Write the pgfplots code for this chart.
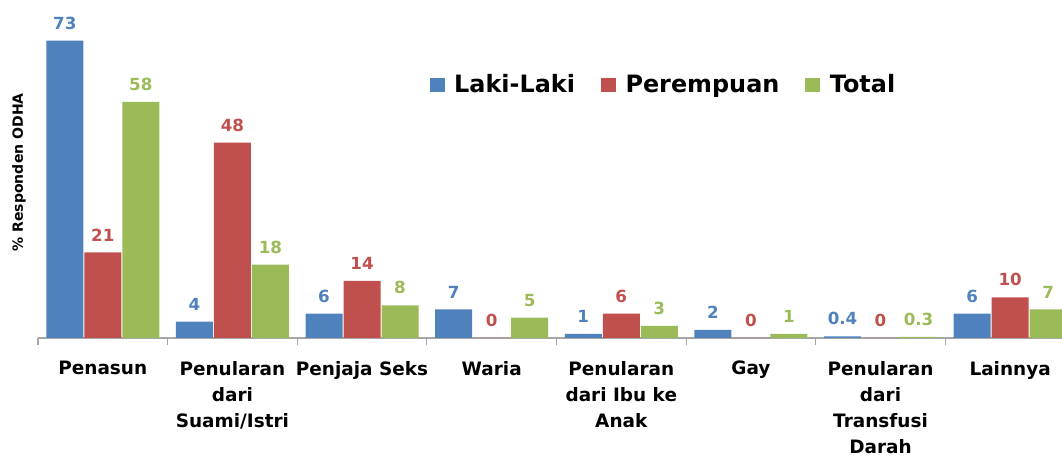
\documentclass[border=0pt]{standalone}
\usepackage{fontspec}
\setmainfont{DejaVu Sans}
\usepackage{pgfplots}
\pgfplotsset{compat=1.18}
\definecolor{lk}{HTML}{4F81BD}
\definecolor{pr}{HTML}{C0504D}
\definecolor{tt}{HTML}{9BBB59}
\begin{document}
\begin{tikzpicture}
\useasboundingbox (0,0) rectangle (21.24cm,9.16cm);
\clip (0,0) rectangle (21.24cm,9.16cm);
\begin{axis}[
    at={(0.76cm,2.4cm)}, anchor=south west,
    scale only axis, width=20.48cm, height=6.76cm,
    clip=false,
    ybar=0.02cm, bar width=0.74cm,
    xmin=-0.5, xmax=7.4, ymin=0, ymax=83,
    axis x line*=bottom, axis y line*=left,
    y axis line style={draw=none},
    ytick=\empty,
    x axis line style={gray!70, line width=0.6pt},
    xtick={0,...,7},
    xticklabels={Penasun, {Penularan\\dari\\Suami/Istri}, Penjaja Seks, Waria,
        {Penularan\\dari Ibu ke\\Anak}, Gay, {Penularan\\dari\\Transfusi\\Darah}, Lainnya},
    xticklabel style={align=center, font=\fontsize{10.5}{14.8}\selectfont\bfseries, yshift=-0.34cm},
    major tick length=0pt,
    minor xtick={-0.5,0.5,...,7.5},
    minor tick length=0.14cm,
    tick align=outside,
    minor tick style={gray!70, line width=0.6pt},
    ylabel={\% Responden ODHA},
    ylabel style={at={(axis description cs:-0.0185,0.49)}, anchor=center, font=\fontsize{8}{10}\selectfont\bfseries},
    nodes near coords,
    /pgf/number format/assume math mode=true,
    every node near coord/.append style={font=\fontsize{9.5}{11}\selectfont\bfseries, yshift=0.1cm},
    legend columns=3,
    legend style={at={(rel axis cs:0.377,0.749)}, anchor=west, draw=none, fill=none,
        font=\fontsize{13.6}{16}\selectfont\bfseries,
        /tikz/every odd column/.append style={column sep=0.12cm},
        /tikz/every even column/.append style={column sep=0.45cm}},
    legend image code/.code={\fill (0cm,-0.14cm) rectangle (0.3cm,0.14cm);},
]
\addplot[fill=lk, draw=none, every node near coord/.append style={text=lk}] coordinates {
    (0,73) (1,4) (2,6) (3,7) (4,1) (5,2) (6,0.4) (7,6)};
\addplot[fill=pr, draw=none, every node near coord/.append style={text=pr}] coordinates {
    (0,21) (1,48) (2,14) (3,0) (4,6) (5,0) (6,0) (7,10)};
\addplot[fill=tt, draw=none, every node near coord/.append style={text=tt}] coordinates {
    (0,58) (1,18) (2,8) (3,5) (4,3) (5,1) (6,0.3) (7,7)};
\legend{Laki-Laki, Perempuan, Total}
\end{axis}
\end{tikzpicture}
\end{document}
